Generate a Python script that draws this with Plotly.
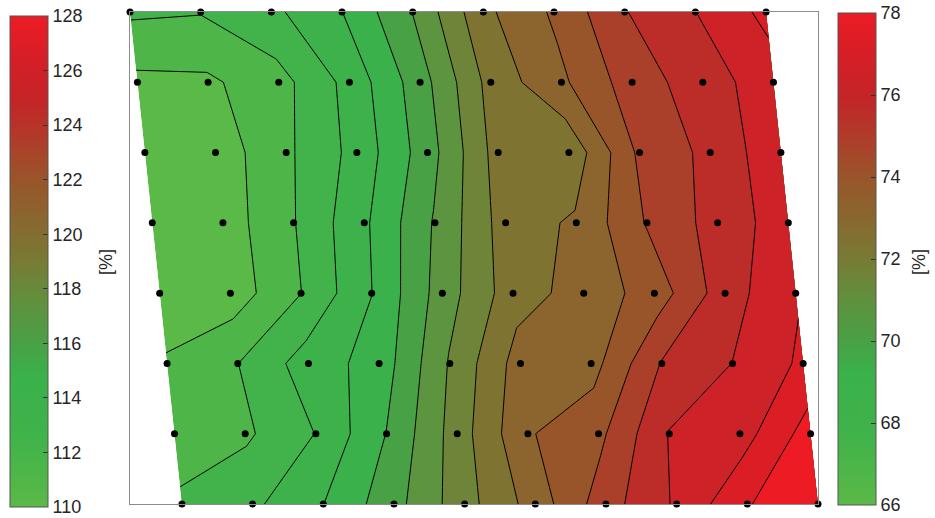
import plotly.graph_objects as go

# Measurement grid: 10 columns x 8 rows, every row shifted right by row_shift
col_pos = [0, 10, 20, 30, 40, 50, 60, 70, 80, 90]
row_pos = [0, 10, 20, 30, 40, 50, 60, 70]
row_shift = 1.05

# Measured values [%], one list per row (top row first)
z_row0 = [67.62, 67.54, 68.07, 68.99, 70.52, 72.56, 73.61, 74.96, 75.74, 76.69]
z_row1 = [66.57, 66.62, 67.22, 68.49, 70.16, 72.27, 73.36, 74.62, 75.38, 76.18]
z_row2 = [66.34, 66.31, 67.36, 68.50, 70.15, 72.32, 72.19, 74.40, 75.20, 76.27]
z_row3 = [66.26, 66.35, 67.46, 68.87, 70.58, 72.35, 72.87, 74.31, 75.31, 76.13]
z_row4 = [66.30, 66.32, 67.49, 68.99, 70.85, 72.41, 73.04, 73.83, 75.40, 76.42]
z_row5 = [66.83, 67.49, 68.61, 69.30, 71.32, 73.10, 73.20, 75.05, 75.76, 76.64]
z_row6 = [67.13, 67.37, 68.27, 69.77, 71.61, 73.43, 74.06, 75.79, 76.15, 77.60]
z_row7 = [67.62, 68.10, 68.99, 70.24, 71.72, 73.08, 74.69, 75.86, 77.19, 78.00]
z_rows = [z_row0, z_row1, z_row2, z_row3, z_row4, z_row5, z_row6, z_row7]

# Contour levels
level_start = 66.75
level_end = 77.25
level_step = 0.75

# Colour bar ranges and ticks
left_range = [110, 128]
left_ticks = [110, 112, 114, 116, 118, 120, 122, 124, 126, 128]
right_range = [66, 78]
right_ticks = [66, 68, 70, 72, 74, 76, 78]
bar_title = "[%]"

green_red = [
    [0.00, "#5bb947"],
    [0.14, "#40b34a"],
    [0.27, "#3ab14a"],
    [0.34, "#4b9f45"],
    [0.42, "#61903d"],
    [0.50, "#787b34"],
    [0.58, "#88682f"],
    [0.67, "#9a542a"],
    [0.75, "#b03b2a"],
    [0.83, "#c42428"],
    [0.92, "#d71e27"],
    [1.00, "#ed1c24"],
]

X = [[c + row_shift * i for c in col_pos] for i in range(len(row_pos))]
Y = [[r for _ in col_pos] for r in row_pos]

hidden_axis = dict(
    showgrid=False, showline=False, startline=False, endline=False,
    showticklabels="none", minorgridcount=0, title=dict(text=""),
)

fig = go.Figure()

fig.add_trace(go.Carpet(
    a=col_pos, b=row_pos, x=X, y=Y, carpet="grid",
    aaxis=hidden_axis, baxis=hidden_axis,
))

fig.add_trace(go.Contourcarpet(
    a=col_pos, b=row_pos, z=z_rows, carpet="grid",
    autocontour=False,
    contours=dict(start=level_start, end=level_end, size=level_step,
                  coloring="fill", showlines=True),
    line=dict(color="black", width=1, smoothing=0),
    colorscale=green_red, showscale=False,
))

# grid nodes
fig.add_trace(go.Scatter(
    x=[v for row in X for v in row], y=[v for row in Y for v in row],
    mode="markers", marker=dict(color="black", size=7),
    cliponaxis=False, hoverinfo="skip",
))

tick_font = dict(family="Liberation Sans, Arial, sans-serif", size=18, color="#262626")


def bar_trace(rng, ticks, xpos, ycen, length):
    return go.Scatter(
        x=[None], y=[None], mode="markers", hoverinfo="skip",
        marker=dict(
            color=[rng[0]], cmin=rng[0], cmax=rng[1], colorscale=green_red,
            showscale=True,
            colorbar=dict(
                x=xpos, xanchor="left", y=ycen, yanchor="middle",
                len=length, lenmode="fraction",
                thickness=38, thicknessmode="pixels",
                xpad=0, ypad=0,
                outlinecolor="#555555", outlinewidth=1,
                tickmode="array", tickvals=ticks,
                ticks="inside", ticklen=5, tickwidth=1, tickcolor="#333333",
                tickfont=tick_font,
            ),
        ),
    )


fig.add_trace(bar_trace(left_range, left_ticks, 10 / 935, 1 - 261.5 / 518, 491 / 518))
fig.add_trace(bar_trace(right_range, right_ticks, 838 / 935, 1 - 259 / 518, 492 / 518))

axis_frame = dict(
    showline=True, mirror=True, linecolor="#8c8c8c", linewidth=1,
    showgrid=False, zeroline=False, showticklabels=False, ticks="",
)

fig.update_layout(
    width=935, height=518,
    margin=dict(l=0, r=0, t=0, b=0),
    paper_bgcolor="white", plot_bgcolor="white",
    showlegend=False,
    xaxis=dict(domain=[130 / 935, 818 / 935],
               range=[col_pos[0], col_pos[-1] + row_shift * (len(row_pos) - 1)],
               **axis_frame),
    yaxis=dict(domain=[1 - 504 / 518, 1 - 12 / 518],
               range=[row_pos[-1], row_pos[0]], **axis_frame),
    annotations=[
        dict(text=bar_title, x=106 / 935, y=1 - 262 / 518, xref="paper", yref="paper",
             xanchor="center", yanchor="middle",
             showarrow=False, textangle=-90, font=tick_font),
        dict(text=bar_title, x=919 / 935, y=1 - 262 / 518, xref="paper", yref="paper",
             xanchor="center", yanchor="middle",
             showarrow=False, textangle=-90, font=tick_font),
    ],
)

fig.write_html("out.html")
